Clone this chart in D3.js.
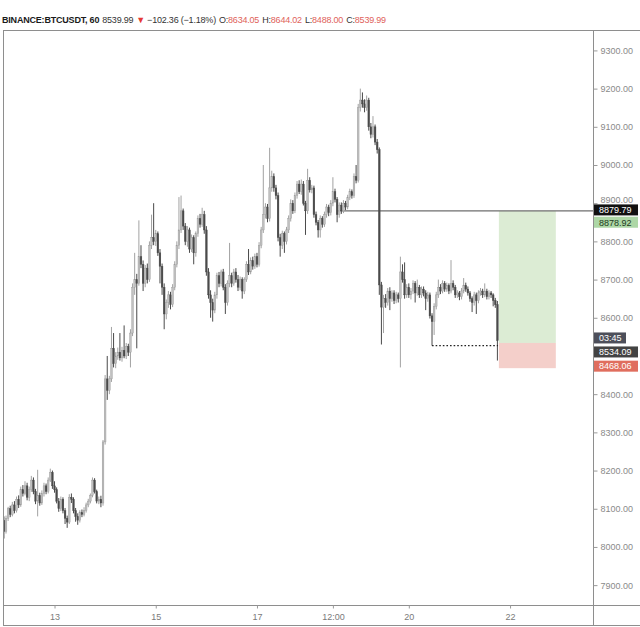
<!DOCTYPE html>
<html>
<head>
<meta charset="utf-8">
<script src="https://cdn.jsdelivr.net/npm/d3@7"></script>
<style>
  body { margin: 0; background: #fff; }
  text { font-family: "Liberation Sans", Arial, sans-serif; }
</style>
</head>
<body>
<div id="container"></div>
<script>

  // hourly bars, index 0 = day 12 00:00 ; [open, high, low, close]
  const bars = [
    // day 12
    [8070,8080,8022,8040],[8040,8082,8035,8075],[8075,8105,8068,8100],[8100,8108,8078,8085],
    [8085,8118,8080,8110],[8110,8120,8088,8095],[8095,8132,8090,8125],[8125,8135,8102,8110],
    [8110,8158,8105,8150],[8150,8162,8132,8140],[8140,8172,8135,8160],[8160,8168,8122,8130],
    [8130,8158,8120,8150],[8150,8186,8144,8175],[8175,8182,8138,8145],[8145,8152,8112,8120],
    [8120,8202,8080,8135],[8135,8142,8108,8115],[8115,8148,8110,8140],[8140,8168,8132,8160],
    [8160,8166,8138,8145],[8145,8182,8140,8175],[8175,8205,8170,8195],[8195,8200,8152,8160],
    // day 13
    [8160,8172,8142,8150],[8150,8156,8114,8120],[8120,8128,8092,8100],[8100,8132,8094,8125],
    [8125,8130,8088,8095],[8095,8102,8060,8075],[8075,8082,8050,8065],[8065,8138,8060,8130],
    [8130,8140,8115,8125],[8125,8130,8088,8095],[8095,8102,8066,8080],[8080,8088,8058,8070],
    [8070,8096,8064,8090],[8090,8098,8078,8085],[8085,8104,8080,8095],[8095,8116,8090,8110],
    [8110,8126,8104,8120],[8120,8140,8114,8135],[8135,8182,8130,8175],[8175,8180,8140,8145],
    [8145,8150,8114,8120],[8120,8132,8112,8125],[8125,8134,8104,8115],[8115,8280,8108,8275],
    // day 14
    [8275,8450,8268,8440],[8440,8500,8385,8410],[8410,8448,8400,8440],[8440,8576,8432,8520],
    [8520,8560,8470,8480],[8480,8510,8468,8500],[8500,8522,8490,8510],[8510,8560,8488,8495],
    [8495,8524,8485,8515],[8515,8580,8494,8500],[8500,8534,8492,8525],[8525,8532,8500,8510],
    [8510,8570,8470,8560],[8560,8690,8552,8680],[8680,8770,8660,8700],[8700,8715,8520,8690],
    [8690,8855,8684,8760],[8760,8790,8730,8740],[8740,8750,8670,8690],[8690,8738,8680,8730],
    [8730,8742,8690,8700],[8700,8800,8694,8790],[8790,8870,8780,8810],[8810,8900,8790,8800],
    // day 15
    [8800,8830,8788,8820],[8820,8826,8762,8770],[8770,8780,8690,8735],[8735,8742,8660,8680],
    [8680,8690,8570,8610],[8610,8648,8596,8640],[8640,8670,8626,8660],[8660,8668,8622,8635],
    [8635,8688,8628,8680],[8680,8748,8672,8740],[8740,8800,8732,8790],[8790,8916,8780,8830],
    [8830,8920,8822,8880],[8880,8886,8830,8840],[8840,8848,8790,8800],[8800,8840,8786,8830],
    [8830,8836,8770,8780],[8780,8818,8772,8810],[8810,8816,8740,8770],[8770,8826,8760,8820],
    [8820,8868,8812,8860],[8860,8872,8836,8845],[8845,8888,8838,8870],[8870,8880,8820,8830],
    // day 16
    [8830,8840,8710,8720],[8720,8730,8650,8660],[8660,8672,8600,8640],[8640,8650,8590,8620],
    [8620,8668,8612,8660],[8660,8718,8650,8710],[8710,8720,8680,8690],[8690,8726,8682,8720],
    [8720,8728,8672,8680],[8680,8688,8610,8640],[8640,8698,8632,8690],[8690,8796,8680,8710],
    [8710,8718,8680,8690],[8690,8728,8684,8720],[8720,8730,8692,8700],[8700,8712,8670,8680],
    [8680,8708,8672,8700],[8700,8706,8650,8670],[8670,8706,8662,8700],[8700,8748,8694,8740],
    [8740,8780,8712,8720],[8720,8758,8714,8750],[8750,8760,8726,8735],[8735,8768,8728,8760],
    // day 17
    [8760,8770,8732,8740],[8740,8798,8734,8790],[8790,8838,8782,8830],[8830,9000,8822,8870],
    [8870,8900,8860,8890],[8890,8898,8850,8860],[8860,9045,8852,8940],[8940,8985,8930,8970],
    [8970,8978,8930,8940],[8940,8948,8910,8920],[8920,8928,8800,8810],[8810,8820,8760,8790],
    [8790,8828,8780,8820],[8820,8826,8770,8800],[8800,8838,8792,8830],[8830,8868,8822,8860],
    [8860,8910,8852,8900],[8900,8908,8872,8880],[8880,8928,8874,8920],[8920,8958,8912,8950],
    [8950,8960,8924,8930],[8930,8962,8922,8950],[8950,8958,8894,8900],[8900,8906,8817,8880],
    // day 18
    [8880,8990,8872,8960],[8960,8968,8928,8935],[8935,8948,8926,8940],[8940,8946,8862,8870],
    [8870,8878,8842,8850],[8850,8856,8810,8830],[8830,8868,8810,8860],[8860,8866,8836,8845],
    [8845,8878,8838,8870],[8870,8898,8862,8890],[8890,8896,8866,8875],[8875,8908,8868,8900],
    [8900,8968,8892,8930],[8930,8938,8902,8910],[8910,8916,8850,8870],[8870,8902,8862,8895],
    [8895,8902,8872,8880],[8880,8908,8874,8900],[8900,8906,8882,8890],[8890,8922,8884,8915],
    [8915,8938,8908,8930],[8930,8936,8912,8920],[8920,8978,8914,8970],[8970,9000,8952,8960],
    // day 19
    [8960,9160,8954,9150],[9150,9200,9140,9170],[9170,9190,9150,9160],[9160,9172,9138,9150],
    [9150,9182,9142,9170],[9170,9176,9090,9100],[9100,9110,9070,9080],[9080,9128,9072,9100],
    [9100,9106,9052,9060],[9060,9068,9030,9040],[9040,9046,8660,8686],[8686,8694,8530,8628],
    [8628,8660,8560,8650],[8650,8662,8626,8640],[8640,8678,8632,8670],[8670,8680,8620,8650],
    [8650,8672,8642,8665],[8665,8672,8636,8645],[8645,8668,8638,8660],[8660,8666,8640,8650],
    [8650,8760,8470,8720],[8720,8740,8692,8700],[8700,8745,8650,8660],[8660,8688,8652,8680],
    // day 20
    [8680,8690,8652,8660],[8660,8678,8648,8670],[8670,8698,8662,8690],[8690,8696,8640,8665],
    [8665,8700,8658,8680],[8680,8686,8652,8660],[8660,8682,8652,8675],[8675,8682,8656,8665],
    [8665,8672,8620,8650],[8650,8668,8642,8660],[8660,8666,8598,8605],[8605,8612,8527,8590],
    [8590,8638,8555,8630],[8630,8668,8622,8660],[8660,8700,8652,8680],[8680,8688,8662,8670],
    [8670,8698,8664,8690],[8690,8696,8668,8675],[8675,8692,8668,8685],[8685,8690,8662,8670],
    [8670,8751,8664,8690],[8690,8698,8672,8680],[8680,8686,8652,8660],[8660,8672,8652,8665],
    // day 21
    [8665,8670,8646,8655],[8655,8678,8648,8670],[8670,8704,8664,8685],[8685,8692,8668,8675],
    [8675,8682,8658,8665],[8665,8670,8642,8650],[8650,8656,8615,8640],[8640,8668,8632,8660],
    [8660,8666,8610,8645],[8645,8672,8638,8665],[8665,8678,8658,8670],[8670,8676,8652,8660],
    [8660,8690,8654,8670],[8670,8676,8648,8655],[8655,8672,8648,8665],[8665,8670,8652,8660],
    [8660,8664,8630,8645],[8645,8652,8626,8634],[8634.05,8644.02,8488.00,8539.99]
  ];

  // 8500 sits under the last-price tag in the picture, so it is not listed
  const yTicks = [7900, 8000, 8100, 8200, 8300, 8400, 8600, 8700, 8800, 8900, 9000, 9100, 9200, 9300];
  const xTickHours = [24, 72, 120, 156, 192, 240];
  const xTickLabels = ["13", "15", "17", "12:00", "20", "22"];

  // long position tool: entry / target / stop, and its time span in bars
  const entryPrice = 8534.09;
  const targetPrice = 8878.92;
  const stopPrice = 8468.06;
  const positionBars = [234.7, 261.7];
  // horizontal ray and dotted line
  const rayPrice = 8879.79;
  const rayStart = 158.4;
  const dottedPrice = 8527;
  const dottedBars = [203, 234.3];
  const countdown = "03:45";

  const header = {
    symbol: "BINANCE:BTCUSDT, 60",
    last: "8539.99",
    change: "\u2212102.36 (\u22121.18%)",
    ohlc: [["O:", "8634.05"], ["H:", "8644.02"], ["L:", "8488.00"], ["C:", "8539.99"]]
  };

  const width = 640;
  const height = 627;
  const pLeft = 3, pRight = 593, pTop = 30, pBottom = 605;

  const svg = d3.create("svg")
      .attr("width", width)
      .attr("height", height);

  const x = d3.scaleLinear().domain([-0.43, 279.33]).range([pLeft, pRight]);
  const y = d3.scaleLinear().domain([7848, 9432]).range([pBottom, 0]);

  svg.append("defs").append("clipPath").attr("id", "plot")
    .append("rect").attr("x", pLeft).attr("y", pTop).attr("width", pRight - pLeft).attr("height", pBottom - pTop);

  const plot = svg.append("g").attr("clip-path", "url(#plot)");

  // position tool
  plot.append("rect")
      .attr("x", x(positionBars[0]))
      .attr("y", y(targetPrice))
      .attr("width", x(positionBars[1]) - x(positionBars[0]))
      .attr("height", y(entryPrice) - y(targetPrice))
      .attr("fill", "#dcecd4");
  plot.append("rect")
      .attr("x", x(positionBars[0]))
      .attr("y", y(entryPrice))
      .attr("width", x(positionBars[1]) - x(positionBars[0]))
      .attr("height", y(stopPrice) - y(entryPrice))
      .attr("fill", "#f4cfca");

  // ray
  plot.append("line")
      .attr("x1", x(rayStart)).attr("x2", pRight)
      .attr("y1", y(rayPrice)).attr("y2", y(rayPrice))
      .attr("stroke", "#4a4a4a")
      .attr("stroke-width", 1);

  // candles
  const upWick = "#a2a2a2", upBody = "#c0c0c0", down = "#4a4a4a";
  const candle = plot.append("g")
    .selectAll("g")
    .data(bars)
    .join("g");

  candle.append("line")
      .attr("x1", (d, i) => x(i)).attr("x2", (d, i) => x(i))
      .attr("y1", d => y(d[1])).attr("y2", d => y(d[2]))
      .attr("stroke", d => d[3] >= d[0] ? upWick : down)
      .attr("stroke-width", 1);

  candle.append("rect")
      .attr("x", (d, i) => x(i) - 0.85)
      .attr("width", 1.7)
      .attr("y", d => y(Math.max(d[0], d[3])))
      .attr("height", d => Math.max(0.8, Math.abs(y(d[0]) - y(d[3]))))
      .attr("fill", d => d[3] >= d[0] ? upBody : down)
      .attr("stroke", d => d[3] >= d[0] ? "#999" : down)
      .attr("stroke-width", 0.4);

  // dotted line
  plot.append("line")
      .attr("x1", x(dottedBars[0])).attr("x2", x(dottedBars[1]))
      .attr("y1", y(dottedPrice)).attr("y2", y(dottedPrice))
      .attr("stroke", "#222")
      .attr("stroke-width", 1.3)
      .attr("stroke-dasharray", "1.6,2");

  // frame
  const frame = svg.append("g").attr("stroke", "#8e8e8e").attr("stroke-width", 1);
  frame.append("line").attr("x1", pLeft).attr("x2", width).attr("y1", pTop + 0.5).attr("y2", pTop + 0.5);
  frame.append("line").attr("x1", pLeft + 0.5).attr("x2", pLeft + 0.5).attr("y1", pTop).attr("y2", 626);
  frame.append("line").attr("x1", pRight + 0.5).attr("x2", pRight + 0.5).attr("y1", pTop).attr("y2", 626);
  frame.append("line").attr("x1", pLeft).attr("x2", width).attr("y1", pBottom + 0.5).attr("y2", pBottom + 0.5);
  frame.append("line").attr("x1", pLeft).attr("x2", width).attr("y1", 625.5).attr("y2", 625.5);

  // right price axis
  const yAxis = svg.append("g")
      .attr("transform", `translate(${pRight + 0.5},0)`)
      .call(d3.axisRight(y).tickValues(yTicks).tickSize(4).tickPadding(3).tickFormat(d3.format(".2f")));
  yAxis.select(".domain").remove();
  yAxis.selectAll("line").attr("stroke", "#9a9a9a");
  yAxis.selectAll("text").attr("fill", "#8a8a8a").attr("font-size", 9)
      .attr("font-family", "Liberation Sans, Arial, sans-serif");
  // the 8900 label peeks out above the ray tag
  yAxis.selectAll(".tick").filter(d => d === 8900).select("text").attr("dy", "-0.1em");

  // bottom time axis
  const xAxis = svg.append("g")
      .attr("transform", `translate(0,${pBottom + 0.5})`)
      .call(d3.axisBottom(x).tickValues(xTickHours).tickSize(3).tickPadding(5)
        .tickFormat((d, i) => xTickLabels[i]));
  xAxis.select(".domain").remove();
  xAxis.selectAll("line").attr("stroke", "#9a9a9a");
  xAxis.selectAll("text").attr("fill", "#7a7a7a").attr("font-size", 9)
      .attr("font-family", "Liberation Sans, Arial, sans-serif");

  // price tags on the axis
  function tag(cy, label, bg, fg, w) {
    const g = svg.append("g");
    g.append("rect")
        .attr("x", pRight + 1).attr("y", cy - 5.5)
        .attr("width", w).attr("height", 11)
        .attr("fill", bg);
    g.append("text")
        .attr("x", pRight + 6).attr("y", cy + 3.3)
        .attr("font-size", 9)
        .attr("fill", fg)
        .text(label);
  }
  tag(y(rayPrice) - 1, d3.format(".2f")(rayPrice), "#111", "#fff", 44);
  tag(y(targetPrice) + 11, d3.format(".2f")(targetPrice), "#add7a6", "#1e3a1e", 44);
  tag(y(entryPrice) - 5, countdown, "#4d4f5a", "#fff", 32);
  tag(y(entryPrice) + 9, d3.format(".2f")(entryPrice), "#434343", "#fff", 44);
  tag(y(stopPrice) - 2, d3.format(".2f")(stopPrice), "#e06e5e", "#fff", 44);

  // legend header
  const red = "#e0625a";
  const head = svg.append("text")
      .attr("x", 2).attr("y", 23)
      .attr("font-size", 9)
      .attr("letter-spacing", -0.2)
      .attr("fill", "#333");
  head.append("tspan").attr("font-weight", "bold").attr("fill", "#1a1a1a").text(header.symbol);
  head.append("tspan").attr("dx", 3).text(header.last);
  head.append("tspan").attr("dx", 3).attr("fill", "#e53935").text("\u25BC");
  head.append("tspan").attr("dx", 2).text(header.change);
  header.ohlc.forEach(([k, v]) => {
    head.append("tspan").attr("dx", 3).text(k);
    head.append("tspan").attr("fill", red).text(v);
  });

  container.append(svg.node());

</script>
</body>
</html>
